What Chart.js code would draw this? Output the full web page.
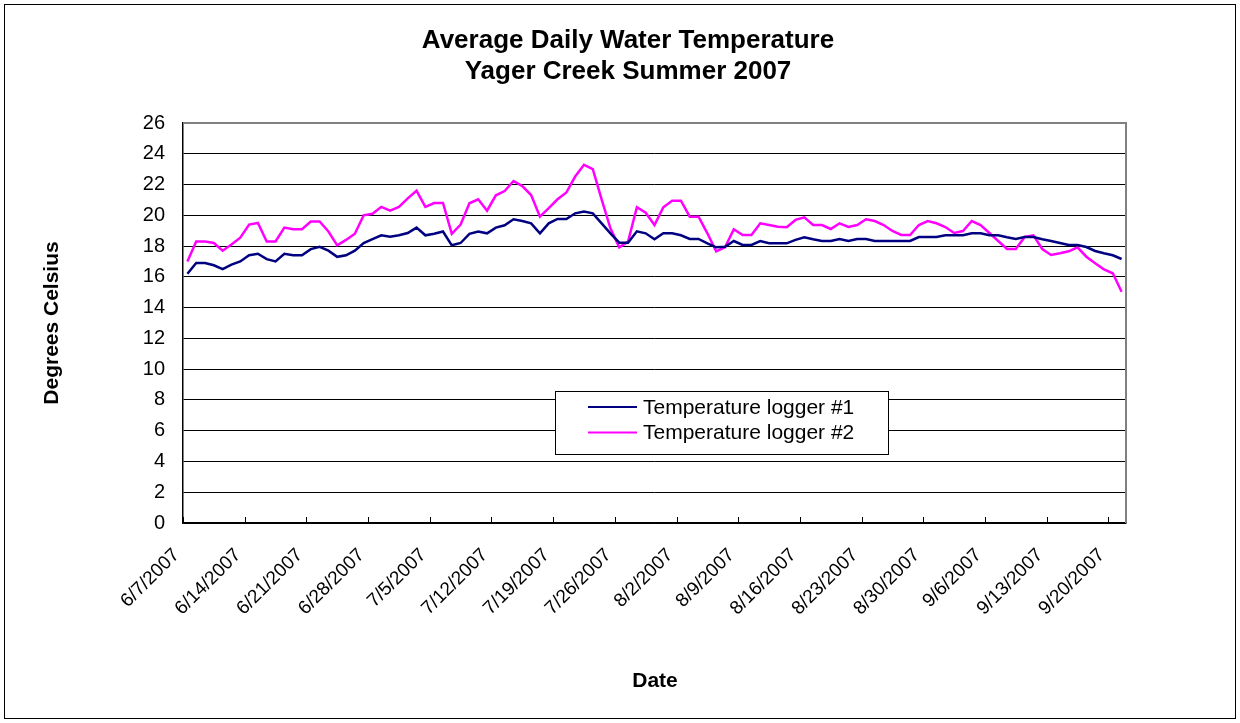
<!DOCTYPE html>
<html>
<head>
<meta charset="utf-8">
<script src="https://cdn.jsdelivr.net/npm/chart.js@4/dist/chart.umd.min.js"></script>
<style>
  html, body { margin: 0; padding: 0; background: #fff; }
  #wrap { width: 1240px; height: 723px; }
</style>
</head>
<body>
<div id="wrap"><canvas id="chart" width="1240" height="723"></canvas></div>
<script>
// daily readings, 6/7/2007 .. 9/21/2007
const startDate = [2007, 6, 7]
const dayCount = 107
const tickEvery = 7

const seriesNames = ['Temperature logger #1', 'Temperature logger #2']
const seriesColors = ['#000080', '#ff00ff']

const logger1 = [
    16.2, 16.9, 16.9, 16.75, 16.5, 16.8, 17.0, 17.4, 17.5, 17.15,
    17.0, 17.5, 17.4, 17.4, 17.8, 17.95, 17.7, 17.3, 17.4, 17.7,
    18.2, 18.45, 18.7, 18.6, 18.7, 18.85, 19.2, 18.7, 18.8, 18.95,
    18.05, 18.2, 18.8, 18.95, 18.83, 19.2, 19.35, 19.74, 19.63, 19.48,
    18.83, 19.48, 19.76, 19.76, 20.13, 20.24, 20.13, 19.48, 18.83, 18.22,
    18.22, 18.96, 18.83, 18.44, 18.83, 18.83, 18.7, 18.46, 18.46, 18.18,
    17.92, 17.96, 18.33, 18.07, 18.07, 18.33, 18.18, 18.18, 18.18, 18.4,
    18.57, 18.44, 18.33, 18.33, 18.46, 18.33, 18.46, 18.46, 18.33, 18.33,
    18.33, 18.33, 18.33, 18.59, 18.59, 18.59, 18.7, 18.7, 18.7, 18.83,
    18.83, 18.7, 18.7, 18.57, 18.46, 18.59, 18.59, 18.44, 18.33, 18.2,
    18.07, 18.07, 17.94, 17.68, 17.53, 17.4, 17.16
]

const logger2 = [
    17.0, 18.3, 18.3, 18.2, 17.7, 18.1, 18.55, 19.4, 19.5, 18.3,
    18.3, 19.2, 19.1, 19.1, 19.6, 19.6, 18.95, 18.05, 18.4, 18.8,
    20.0, 20.1, 20.55, 20.3, 20.55, 21.1, 21.6, 20.55, 20.8, 20.8,
    18.8, 19.4, 20.78, 21.04, 20.3, 21.3, 21.58, 22.23, 21.9, 21.32,
    19.91, 20.46, 21.04, 21.48, 22.52, 23.28, 23.0, 21.04, 19.15, 17.92,
    18.29, 20.52, 20.17, 19.37, 20.52, 20.95, 20.95, 19.91, 19.91, 18.83,
    17.66, 17.92, 19.09, 18.72, 18.72, 19.48, 19.37, 19.26, 19.22, 19.7,
    19.87, 19.37, 19.37, 19.11, 19.48, 19.24, 19.37, 19.74, 19.63, 19.37,
    18.98, 18.72, 18.72, 19.37, 19.63, 19.48, 19.24, 18.85, 18.98, 19.63,
    19.37, 18.85, 18.33, 17.81, 17.81, 18.59, 18.7, 17.81, 17.42, 17.53,
    17.66, 17.92, 17.31, 16.88, 16.49, 16.23, 15.03
]

const yMin = 0
const yMax = 26
const yStep = 2

let categories = []
for (let i = 0; i < dayCount; i++) {
    const d = new Date(startDate[0], startDate[1] - 1, startDate[2] + i)
    categories.push(`${d.getMonth() + 1}/${d.getDate()}/${d.getFullYear()}`)
}

const FONT = "'Liberation Sans', Arial, sans-serif"

const decorations = {
    id: 'decorations',
    afterDraw(chart) {
        const ctx = chart.ctx
        const area = chart.chartArea
        const x = chart.scales.x
        ctx.save()

        // outer frame
        ctx.strokeStyle = '#000'
        ctx.lineWidth = 1
        ctx.strokeRect(4.5, 4.5, 1231, 714)

        // plot frame, top and right
        ctx.strokeStyle = '#808080'
        ctx.lineWidth = 2
        ctx.beginPath()
        ctx.moveTo(area.left, area.top)
        ctx.lineTo(area.right, area.top)
        ctx.lineTo(area.right, area.bottom)
        ctx.stroke()

        // inside tick marks on the date axis
        const half = (x.getPixelForValue(1) - x.getPixelForValue(0)) / 2
        ctx.strokeStyle = '#000'
        ctx.lineWidth = 1
        ctx.beginPath()
        for (let i = 0; i < categories.length; i += tickEvery) {
            const px = Math.round(x.getPixelForValue(i) - half) + 0.5
            ctx.moveTo(px, area.bottom)
            ctx.lineTo(px, area.bottom - 6)
        }
        ctx.stroke()

        // titles
        ctx.fillStyle = '#000'
        ctx.textAlign = 'center'
        ctx.textBaseline = 'middle'
        ctx.font = `bold 26px ${FONT}`
        ctx.fillText('Average Daily Water Temperature', 628, 41)
        ctx.fillText('Yager Creek Summer 2007', 628, 72)

        ctx.font = `bold 21px ${FONT}`
        ctx.fillText('Date', 655, 681)
        ctx.translate(52, 323)
        ctx.rotate(-Math.PI / 2)
        ctx.fillText('Degrees Celsius', 0, 0)
        ctx.setTransform(1, 0, 0, 1, 0, 0)

        // legend
        const box = {left: 555, top: 391.5, width: 333, height: 63}
        ctx.fillStyle = '#fff'
        ctx.fillRect(box.left, box.top, box.width, box.height)
        ctx.strokeStyle = '#000'
        ctx.lineWidth = 1
        ctx.strokeRect(box.left + 0.5, box.top, box.width, box.height)
        ctx.font = `21px ${FONT}`
        ctx.textAlign = 'left'
        seriesNames.forEach((name, i) => {
            const y = 407 + i * 25.5
            ctx.strokeStyle = seriesColors[i]
            ctx.lineWidth = 2
            ctx.beginPath()
            ctx.moveTo(588, y)
            ctx.lineTo(637, y)
            ctx.stroke()
            ctx.fillStyle = '#000'
            ctx.fillText(name, 643, y + 1)
        })

        ctx.restore()
    }
}

const chart = new Chart(document.getElementById('chart'), {
    type: 'line',
    data: {
        labels: categories,
        datasets: [
            {
                label: seriesNames[0],
                data: logger1,
                borderColor: seriesColors[0],
                borderWidth: 2.5,
                pointRadius: 0,
                tension: 0
            },
            {
                label: seriesNames[1],
                data: logger2,
                borderColor: seriesColors[1],
                borderWidth: 2.5,
                pointRadius: 0,
                tension: 0
            }
        ]
    },
    options: {
        responsive: false,
        animation: false,
        devicePixelRatio: 1,
        layout: {padding: {left: 0, top: 123, right: 114, bottom: 0}},
        plugins: {
            legend: {display: false},
            title: {display: false},
            tooltip: {enabled: false}
        },
        scales: {
            x: {
                type: 'category',
                offset: true,
                grid: {display: false, drawTicks: false},
                border: {display: true, color: '#000', width: 1.5},
                ticks: {
                    autoSkip: false,
                    minRotation: 45,
                    maxRotation: 45,
                    padding: 21,
                    labelOffset: -11,
                    color: '#000',
                    font: {family: FONT, size: 19},
                    callback: (value, index) => index % tickEvery == 0 ? categories[index] : ''
                },
                afterFit: scale => { scale.height = 200 }
            },
            y: {
                min: yMin,
                max: yMax,
                grid: {color: '#000', lineWidth: 1, drawTicks: false},
                border: {display: true, color: '#000', width: 1.5},
                ticks: {
                    stepSize: yStep,
                    padding: 18,
                    color: '#000',
                    font: {family: FONT, size: 20}
                },
                afterFit: scale => { scale.width = 183 }
            }
        }
    },
    plugins: [decorations]
})
</script>
</body>
</html>
